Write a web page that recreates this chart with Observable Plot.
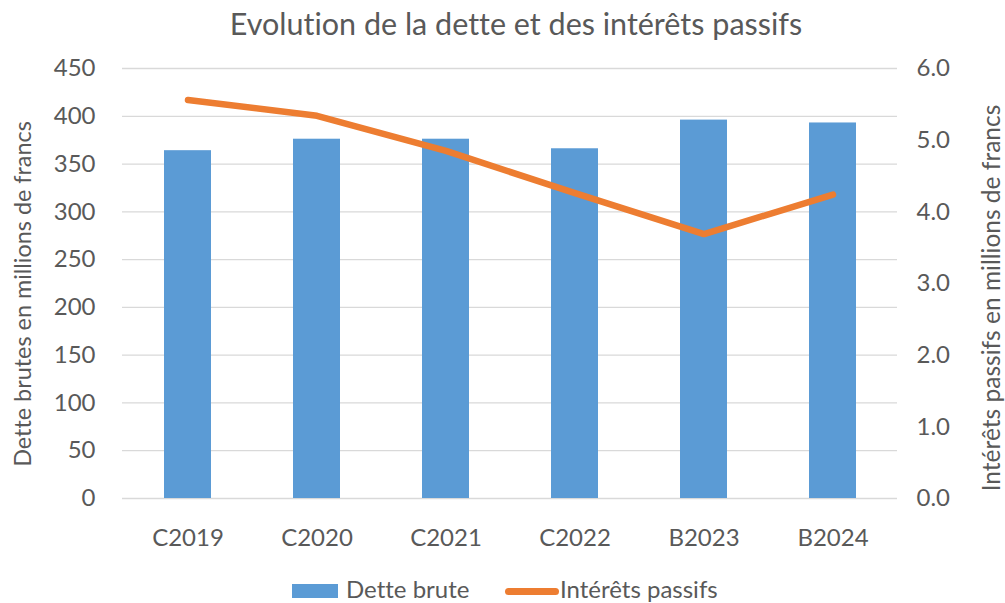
<!DOCTYPE html>
<html><head><meta charset="utf-8">
<script src="https://cdn.jsdelivr.net/npm/d3@7"></script>
<script src="https://cdn.jsdelivr.net/npm/@observablehq/plot@0.6"></script>
<style>
body{margin:0;background:#fff;font-family:Lato,sans-serif;color:#595959;font-variant-ligatures:none;}
svg text{font-variant-ligatures:none;}
#wrap{position:relative;width:1005px;height:603px;overflow:hidden;background:#fff;}
#title{position:absolute;left:0;width:1032px;top:8px;height:30px;line-height:30px;font-size:30.5px;text-align:center;white-space:nowrap;}
#chart{position:absolute;left:0;top:50px;}
.ytitle{position:absolute;white-space:nowrap;transform:translate(-50%,-50%) rotate(-90deg);}
#yl{left:23px;top:294px;font-size:22px;line-height:22px;}
#yr{left:991px;top:298px;font-size:23px;line-height:23px;}
.lg{position:absolute;font-size:24px;line-height:24px;white-space:nowrap;}
.sw{position:absolute;}
</style></head><body>
<div id="wrap">
<div id="title">Evolution de la dette et des intérêts passifs</div>
<div id="chart"></div>
<div class="ytitle" id="yl">Dette brutes en millions de francs</div>
<div class="ytitle" id="yr">Intérêts passifs en millions de francs</div>
<div class="sw" style="left:292px;top:584px;width:46px;height:14px;background:#5B9BD5"></div>
<div class="lg" style="left:346px;top:577px">Dette brute</div>
<div class="sw" style="left:505px;top:588px;width:54px;height:7px;border-radius:4px;background:#ED7D31"></div>
<div class="lg" style="left:560px;top:577px">Intérêts passifs</div>
</div>
<script>
const categories = ["C2019", "C2020", "C2021", "C2022", "B2023", "B2024"];
const detteBrute = [364, 376, 376, 366, 396, 393];
const interetsPassifs = [5.56, 5.34, 4.85, 4.26, 3.69, 4.24];
const leftTicks = [0, 50, 100, 150, 200, 250, 300, 350, 400, 450];
const rightTicks = [0, 1, 2, 3, 4, 5, 6];
const ratio = 450 / 6;

const data = categories.map((c, i) => ({cat: c, dette: detteBrute[i], interets: interetsPassifs[i]}));

// fit rotated axis titles to the measured lengths of the reference
function fitSize(el, targetLen) {
  const ctx = document.createElement("canvas").getContext("2d");
  ctx.font = "100px Lato";
  const w = ctx.measureText(el.textContent).width;
  const fs = 100 * targetLen / w;
  el.style.fontSize = fs + "px";
  el.style.lineHeight = fs + "px";
}
fitSize(document.getElementById("yl"), 345);
fitSize(document.getElementById("yr"), 387);

const plot = Plot.plot({
  width: 1005,
  height: 510,
  marginTop: 18,
  marginBottom: 62,
  marginLeft: 122,
  marginRight: 108,
  style: {fontFamily: "Lato, sans-serif", fontSize: "24px", color: "#595959", background: "white", overflow: "visible"},
  x: {domain: categories, paddingInner: 0.636, paddingOuter: 0.318},
  y: {domain: [0, 450]},
  marks: [
    Plot.ruleY(leftTicks, {stroke: "#d9d9d9", strokeWidth: 1.3}),
    Plot.barY(data, {x: "cat", y: "dette", fill: "#5B9BD5"}),
    Plot.line(data, {x: "cat", y: d => d.interets * ratio, stroke: "#ED7D31", strokeWidth: 6.5, strokeLinecap: "round", strokeLinejoin: "round"}),
    Plot.axisY({ticks: leftTicks, anchor: "left", tickSize: 0, tickPadding: 27, label: null, fontSize: 24}),
    Plot.axisY({ticks: rightTicks.map(t => t * ratio), anchor: "right", tickSize: 0, tickPadding: 19, tickFormat: d => (d / ratio).toFixed(1), label: null, fontSize: 24}),
    Plot.axisX({tickSize: 0, tickPadding: 30, label: null, fontSize: 24})
  ]
});
document.getElementById("chart").appendChild(plot);
</script>
</body></html>
